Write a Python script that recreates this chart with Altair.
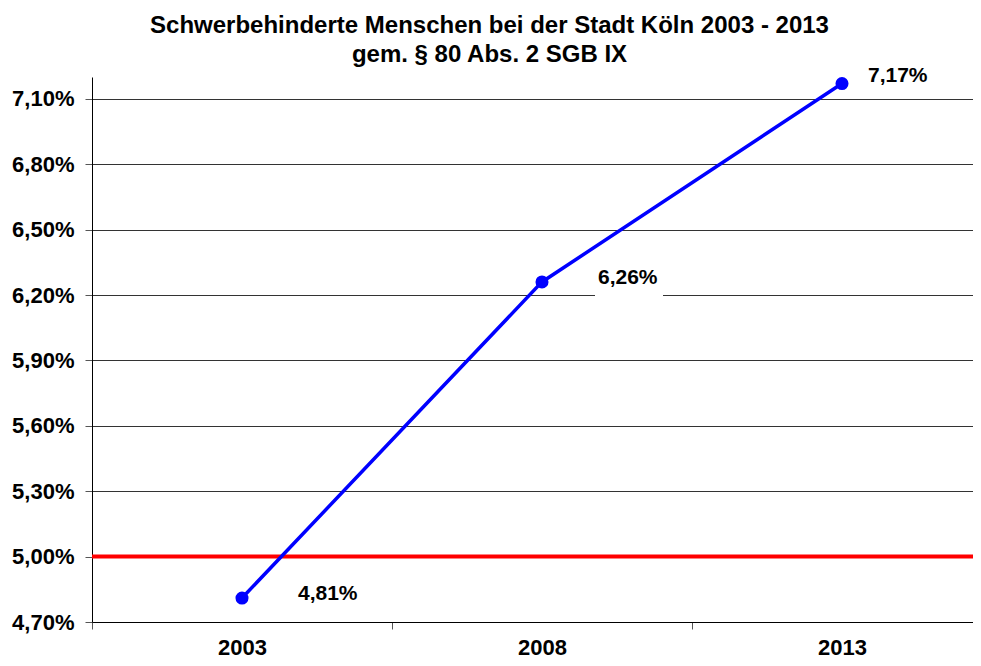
import altair as alt
import pandas as pd

years = ["2003", "2008", "2013"]
values = [4.81, 6.26, 7.17]
labels = ["4,81%", "6,26%", "7,17%"]
y_ticks = [4.7, 5.0, 5.3, 5.6, 5.9, 6.2, 6.5, 6.8, 7.1]
threshold = [5.0]
title_lines = ["Schwerbehinderte Menschen bei der Stadt Köln 2003 - 2013",
               "gem. § 80 Abs. 2 SGB IX"]

df = pd.DataFrame({"year": years, "value": values, "label": labels})
df_thr = pd.DataFrame({"t": threshold})

FONT = "Liberation Sans"

x_enc = alt.X(
    "year:N",
    scale=alt.Scale(type="band", range=[0, 900], paddingInner=0, paddingOuter=0),
    axis=alt.Axis(
        title=None, labelAngle=0, tickBand="extent", tickSize=7, tickColor="#555",
        domainColor="#000", labelFont=FONT, labelFontSize=22, labelFontWeight="bold",
        labelColor="#000", labelPadding=8, grid=False,
    ),
)
y_enc = alt.Y(
    "value:Q",
    scale=alt.Scale(domain=[4.7, 7.2], nice=False, zero=False),
    axis=alt.Axis(
        title=None, values=y_ticks,
        labelExpr="replace(format(datum.value, '.2f'), '.', ',') + '%'",
        tickSize=7, tickColor="#555", domainColor="#000", labelPadding=11,
        labelFont=FONT, labelFontSize=22, labelFontWeight="bold", labelColor="#000",
        grid=True, gridColor="#333", gridWidth=1,
    ),
)

base = alt.Chart(df)

line = base.mark_line(color="#0000FF", strokeWidth=3.5).encode(x=x_enc, y=y_enc)
pts = base.mark_point(filled=True, color="#0000FF", size=170, opacity=1).encode(x="year:N", y="value:Q")

rule = alt.Chart(df_thr).mark_rule(color="#FF0000", strokeWidth=4).encode(y="t:Q")

first = base.transform_filter("datum.year != '2013'")
last = base.transform_filter("datum.year == '2013'")

bg1 = first.mark_rect(color="white", width=68, height=38, xOffset=87, yOffset=-2).encode(x="year:N", y="value:Q")
txt1 = first.mark_text(align="left", baseline="middle", dx=56, dy=-4, font=FONT,
                       fontSize=21, fontWeight="bold", color="#000").encode(x="year:N", y="value:Q", text="label:N")
bg2 = last.mark_rect(color="white", width=66, height=30, xOffset=57, yOffset=-8).encode(x="year:N", y="value:Q")
txt2 = last.mark_text(align="left", baseline="middle", dx=26, dy=-8, font=FONT,
                      fontSize=21, fontWeight="bold", color="#000").encode(x="year:N", y="value:Q", text="label:N")

chart = alt.layer(rule, line, pts, bg1, bg2, txt1, txt2).properties(
    width=881,
    height=545,
    padding={"left": 84, "top": 69, "right": 0, "bottom": 36},
    autosize=alt.AutoSizeParams(type="none"),
    title=alt.Title(
        title_lines, font=FONT, fontSize=24, fontWeight="bold", color="#000",
        lineHeight=29, anchor="middle", dx=-43, dy=14, offset=8,
    ),
).configure_view(strokeWidth=0)

chart.save("out.html", embed_options={"renderer": "svg", "actions": False})
